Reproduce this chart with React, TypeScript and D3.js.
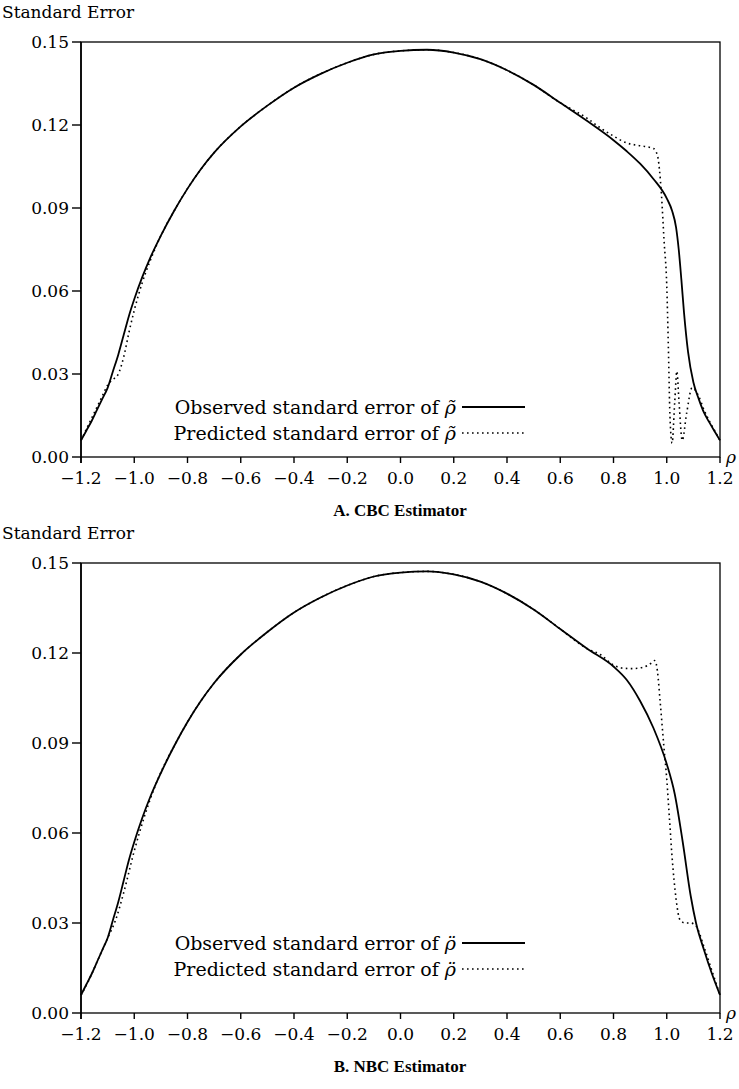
import React from "react";
import * as d3 from "d3";

// ---------- data ----------
const xTicks = [-1.2, -1.0, -0.8, -0.6, -0.4, -0.2, 0.0, 0.2, 0.4, 0.6, 0.8, 1.0, 1.2];
const yTicks = [0.0, 0.03, 0.06, 0.09, 0.12, 0.15];

// Panel A (CBC) observed
const rhoAObs = [-1.2,-1.18,-1.16,-1.14,-1.12,-1.1,-1.08,-1.06,-1.04,-1.02,-1.0,-0.97,-0.94,-0.9,-0.85,-0.8,-0.75,-0.7,-0.6,-0.5,-0.4,-0.3,-0.2,-0.1,0,0.1,0.2,0.3,0.4,0.5,0.6,0.7,0.8,0.85,0.9,0.95,1.0,1.02,1.035,1.045,1.055,1.065,1.08,1.1,1.12,1.14,1.16,1.18,1.2];
const seAObs = [0.006,0.0095,0.013,0.017,0.021,0.025,0.031,0.037,0.044,0.051,0.057,0.065,0.072,0.080,0.089,0.097,0.104,0.110,0.1195,0.127,0.1335,0.1385,0.1425,0.1455,0.1468,0.1472,0.1462,0.1438,0.1398,0.1345,0.128,0.1215,0.1145,0.1105,0.106,0.1005,0.0935,0.089,0.083,0.075,0.064,0.052,0.038,0.027,0.021,0.016,0.0125,0.0092,0.006];
// Panel A predicted
const rhoAPred = [-1.2,-1.17,-1.14,-1.12,-1.1,-1.08,-1.06,-1.04,-1.02,-1.0,-0.97,-0.94,-0.9,-0.85,-0.8,-0.7,-0.6,-0.5,-0.4,-0.3,-0.2,-0.1,0,0.1,0.2,0.3,0.4,0.5,0.6,0.7,0.75,0.8,0.85,0.9,0.95,0.965,0.98,0.99,1.0,1.006,1.012,1.02,1.03,1.038,1.046,1.058,1.075,1.095,1.12,1.14,1.16,1.18,1.2];
const seAPred = [0.006,0.012,0.018,0.022,0.026,0.028,0.030,0.036,0.045,0.053,0.063,0.071,0.080,0.089,0.097,0.110,0.1195,0.127,0.1335,0.1385,0.1425,0.1455,0.1468,0.1472,0.1462,0.1438,0.1398,0.1345,0.128,0.1225,0.119,0.116,0.1135,0.1125,0.1115,0.109,0.095,0.078,0.062,0.040,0.015,0.005,0.020,0.031,0.020,0.006,0.016,0.025,0.022,0.017,0.013,0.0095,0.006];

// Panel B (NBC) observed
const rhoBObs = [-1.2,-1.18,-1.16,-1.14,-1.12,-1.1,-1.08,-1.06,-1.04,-1.02,-1.0,-0.97,-0.94,-0.9,-0.85,-0.8,-0.75,-0.7,-0.6,-0.5,-0.4,-0.3,-0.2,-0.1,0,0.1,0.2,0.3,0.4,0.5,0.6,0.7,0.8,0.85,0.9,0.95,1.0,1.03,1.06,1.09,1.11,1.14,1.17,1.2];
const seBObs = [0.006,0.0095,0.013,0.017,0.021,0.025,0.031,0.037,0.044,0.051,0.057,0.065,0.072,0.080,0.089,0.097,0.104,0.110,0.1195,0.127,0.1335,0.1385,0.1425,0.1455,0.1468,0.1472,0.1462,0.1438,0.1398,0.1345,0.128,0.1215,0.1155,0.111,0.104,0.095,0.083,0.073,0.057,0.039,0.030,0.021,0.013,0.006];
// Panel B predicted
const rhoBPred = [-1.2,-1.17,-1.14,-1.12,-1.1,-1.07,-1.04,-1.0,-0.96,-0.92,-0.88,-0.85,-0.8,-0.75,-0.7,-0.6,-0.5,-0.4,-0.3,-0.2,-0.1,0,0.1,0.2,0.3,0.4,0.5,0.6,0.7,0.75,0.8,0.83,0.87,0.91,0.94,0.955,0.965,0.975,0.99,1.0,1.01,1.02,1.035,1.05,1.07,1.09,1.11,1.14,1.17,1.2];
const seBPred = [0.006,0.011,0.017,0.021,0.025,0.031,0.040,0.054,0.066,0.076,0.084,0.089,0.097,0.104,0.110,0.1195,0.127,0.1335,0.1385,0.1425,0.1455,0.1468,0.1472,0.1462,0.1438,0.1398,0.1345,0.128,0.1215,0.1195,0.116,0.115,0.1148,0.1152,0.1165,0.1175,0.114,0.104,0.088,0.078,0.065,0.052,0.038,0.031,0.030,0.030,0.029,0.022,0.014,0.006];

const panels = [
  { top: 42, bottom: 457, leg1: 50, leg2: 24, obsX: rhoAObs, obsY: seAObs, predX: rhoAPred, predY: seAPred, mark: "\u0303", title: "A. CBC Estimator" },
  { top: 563, bottom: 1013, leg1: 70, leg2: 44, obsX: rhoBObs, obsY: seBObs, predX: rhoBPred, predY: seBPred, mark: "\u0308", title: "B. NBC Estimator" },
];

const FONT = "'DejaVu Serif', serif";

function Panel({ p }: { p: any }) {
  const x = d3.scaleLinear().domain([-1.2, 1.2]).range([81, 720]);
  const y = d3.scaleLinear().domain([0, 0.15]).range([p.bottom, p.top]);
  const line = d3
    .line<[number, number]>()
    .x((d) => x(d[0]))
    .y((d) => y(d[1]))
    .curve(d3.curveMonotoneX);
  const obs = line(p.obsX.map((v: number, i: number) => [v, p.obsY[i]]));
  const pred = line(p.predX.map((v: number, i: number) => [v, p.predY[i]]));
  const [x0, x1] = x.range();
  const legY1 = p.bottom - p.leg1;
  const legY2 = p.bottom - p.leg2;
  return (
    <g>
      <text x={2} y={p.top - 24} fontFamily={FONT} fontSize={17}>Standard Error</text>
      {/* box */}
      <rect x={x0} y={p.top} width={x1 - x0} height={p.bottom - p.top} fill="none" stroke="#000" strokeWidth={1.3} />
      <line x1={x0} x2={x0} y1={p.top} y2={p.bottom + 6} stroke="#000" strokeWidth={1.6} />
      {yTicks.map((t) => (
        <g key={"y" + t}>
          <line x1={x0 - 9} x2={x0} y1={y(t)} y2={y(t)} stroke="#000" strokeWidth={1.4} />
          <text x={x0 - 12} y={y(t)} dy="0.35em" textAnchor="end" fontFamily={FONT} fontSize={17}>
            {t.toFixed(2)}
          </text>
        </g>
      ))}
      {xTicks.map((t) => (
        <g key={"x" + t}>
          <line x1={x(t)} x2={x(t)} y1={p.bottom} y2={p.bottom + 6} stroke="#000" strokeWidth={1.4} />
          <text x={x(t)} y={p.bottom + 27} textAnchor="middle" fontFamily={FONT} fontSize={17}>
            {(t < 0 ? "\u2212" : "") + Math.abs(t).toFixed(1)}
          </text>
        </g>
      ))}
      <text x={x1 + 6} y={p.bottom + 6} fontFamily={FONT} fontSize={17} fontStyle="italic">ρ</text>
      <path d={obs || ""} fill="none" stroke="#000" strokeWidth={1.8} />
      <path d={pred || ""} fill="none" stroke="#000" strokeWidth={1.6} strokeDasharray="1.6,3.4" />
      {/* legend */}
      <text x={456} y={legY1} dy="0.35em" textAnchor="end" fontFamily={FONT} fontSize={19}>
        Observed standard error of <tspan fontStyle="italic">{"ρ" + p.mark}</tspan>
      </text>
      <line x1={462} x2={525} y1={legY1} y2={legY1} stroke="#000" strokeWidth={1.8} />
      <text x={456} y={legY2} dy="0.35em" textAnchor="end" fontFamily={FONT} fontSize={19}>
        Predicted standard error of <tspan fontStyle="italic">{"ρ" + p.mark}</tspan>
      </text>
      <line x1={462} x2={525} y1={legY2} y2={legY2} stroke="#000" strokeWidth={1.6} strokeDasharray="1.6,3.4" />
      <text x={400} y={p.bottom + 59} textAnchor="middle" fontFamily="'Liberation Serif', serif" fontWeight="bold" fontSize={17}>
        {p.title}
      </text>
    </g>
  );
}

export default function App() {
  return (
    <div style={{ position: "absolute", left: 0, top: 0 }}>
      <svg width={739} height={1089} style={{ display: "block", background: "#fff" }}>
        {panels.map((p, i) => (
          <Panel key={i} p={p} />
        ))}
      </svg>
    </div>
  );
}
